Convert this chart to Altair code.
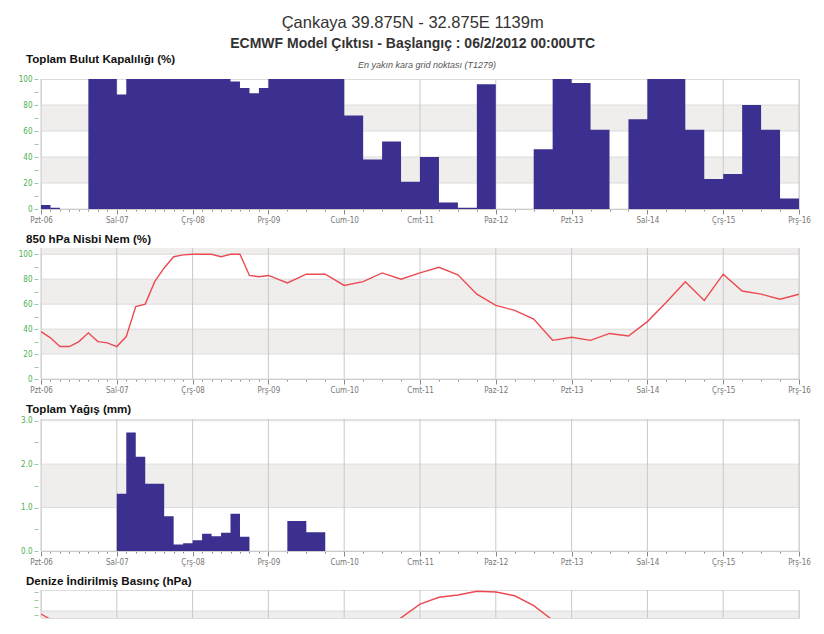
import json
import altair as alt
import pandas as pd

# ---------------- data ----------------
day_labels = ["Pzt-06", "Sal-07", "Çrş-08", "Prş-09", "Cum-10", "Cmt-11",
              "Paz-12", "Pzt-13", "Sal-14", "Çrş-15", "Prş-16"]
day_hours = [0, 24, 48, 72, 96, 120, 144, 168, 192, 216, 240]
x_ticks = [0, 3, 6, 9, 12, 15, 18, 21, 24, 27, 30, 33, 36, 39, 42, 45, 48, 51, 54,
           57, 60, 63, 66, 69, 72, 78, 84, 90, 96, 102, 108, 114, 120, 126, 132,
           138, 144, 150, 156, 162, 168, 174, 180, 186, 192, 198, 204, 210, 216,
           222, 228, 234, 240]

# Total cloud cover (%), bar start / end hour
cloud_start = [0, 3, 6, 9, 12, 15, 18, 21, 24, 27, 30, 33, 36, 39, 42, 45, 48, 51,
               54, 57, 60, 63, 66, 69, 72, 78, 84, 90, 96, 102, 108, 114, 120, 126,
               132, 138, 144, 150, 156, 162, 168, 174, 180, 186, 192, 198, 204, 210,
               216, 222, 228, 234]
cloud_end = [3, 6, 9, 12, 15, 18, 21, 24, 27, 30, 33, 36, 39, 42, 45, 48, 51, 54,
             57, 60, 63, 66, 69, 72, 78, 84, 90, 96, 102, 108, 114, 120, 126, 132,
             138, 144, 150, 156, 162, 168, 174, 180, 186, 192, 198, 204, 210, 216,
             222, 228, 234, 240]
cloud_val = [3, 1, 0, 0, 0, 100, 100, 100, 88, 100, 100, 100, 100, 100, 100, 100,
             100, 100, 100, 100, 98, 93, 89, 93, 100, 100, 100, 100, 72, 38, 52, 21,
             40, 5, 1, 96, 0, 0, 46, 100, 97, 61, 0, 69, 100, 100, 61, 23, 27, 80,
             61, 8]

# 850 hPa relative humidity (%)
rh_hours = [0, 3, 6, 9, 12, 15, 18, 21, 24, 27, 30, 33, 36, 39, 42, 45, 48, 51, 54,
            57, 60, 63, 66, 69, 72, 78, 84, 90, 96, 102, 108, 114, 120, 126, 132,
            138, 144, 150, 156, 162, 168, 174, 180, 186, 192, 198, 204, 210, 216,
            222, 228, 234, 240]
rh_val = [38, 33, 26, 26, 30, 37, 30, 29, 26, 34, 58, 60, 78, 89, 98, 99.5, 100,
          100, 100, 98, 100, 100, 83, 82, 83, 77, 84, 84, 75, 78, 85, 80, 85, 89.5,
          83.5, 68, 59, 55, 48, 31, 33.5, 31, 36.5, 34.5, 46, 61.5, 78, 63, 84,
          70.5, 68, 64, 68]

# Total precipitation (mm)
pr_start = [24, 27, 30, 33, 36, 39, 42, 45, 48, 51, 54, 57, 60, 63, 78, 84]
pr_end = [27, 30, 33, 36, 39, 42, 45, 48, 51, 54, 57, 60, 63, 66, 84, 90]
pr_val = [1.32, 2.73, 2.17, 1.55, 1.55, 0.80, 0.15, 0.18, 0.25, 0.40, 0.34, 0.42,
          0.86, 0.33, 0.69, 0.43]

# Mean sea level pressure (hPa)
p_hours = [0, 3, 6, 9, 12, 24, 48, 72, 96, 102, 108, 114, 120, 126, 132, 138, 144,
           150, 156, 162, 168, 174, 180, 192, 204, 210, 216, 222, 228, 234, 240]
p_val = [1027.6, 1026.9, 1025.8, 1025.0, 1024.3, 1022.5, 1021.0, 1020.5, 1022.0,
         1023.5, 1024.8, 1027.1, 1028.9, 1029.8, 1030.1, 1030.6, 1030.5, 1030.0,
         1028.7, 1026.8, 1025.2, 1024.0, 1023.0, 1022.5, 1023.5, 1024.5, 1025.2,
         1026.2, 1024.5, 1023.0, 1022.0]

cloud_ticks = [0, 10, 20, 30, 40, 50, 60, 70, 80, 90, 100]
cloud_bands = [(20, 40), (60, 80)]
rh_ticks = [0, 10, 20, 30, 40, 50, 60, 70, 80, 90, 100]
rh_bands = [(20, 40), (60, 80), (100, 105)]
pr_ticks = [0.0, 0.5, 1.0, 1.5, 2.0, 2.5, 3.0]
pr_bands = [(1.0, 2.0)]
p_ticks = [1027.5, 1028, 1028.5, 1029, 1029.5, 1030, 1030.5]
p_bands = [(1024, 1028)]

# ---------------- style ----------------
W = 758
BAR = "#3b2f8f"
LINE = "#ec4a50"
BAND = "#efeeec"
HGRID = "#dcdcdc"
VGRID = "#c9c9c9"
FONT = "Liberation Sans Narrow, DejaVu Sans Condensed, Liberation Sans, Arial, sans-serif"
TFONT = "Liberation Sans, Arial, sans-serif"
PT_SIZE = 11.6

xscale = alt.Scale(domain=[0, 240], nice=False, zero=False)
label_arr = json.dumps(day_labels, ensure_ascii=False)


def step_frame(starts, ends, vals):
    """Turn bar (start, end, value) triples into step-after points."""
    hs, vs = [], []
    for i, (s, e, v) in enumerate(zip(starts, ends, vals)):
        hs.append(s)
        vs.append(v)
        nxt = starts[i + 1] if i + 1 < len(starts) else None
        if nxt is None or nxt != e:
            hs.append(e)
            vs.append(0)
    return pd.DataFrame({"h": hs, "v": vs})


def x_axis(show=True):
    if not show:
        return None
    return alt.Axis(
        values=x_ticks,
        labelExpr=f"datum.value % 24 === 0 ? {label_arr}[datum.value / 24] : ''",
        tickSize={"condition": {"test": "datum.value % 24 === 0", "value": 5}, "value": 2},
        tickColor="#888", domainColor="#cccccc", labelColor="#777",
        labelFont=FONT, labelFontSize=8, labelPadding=2, labelOverlap=False,
        labelFlush=False, grid=False, title=None,
    )


def y_axis(values, test, fmt):
    return alt.Axis(
        values=values, format=fmt,
        labelExpr=f"({test}) ? datum.label : ''",
        tickSize=4, tickColor="#9c9", labelColor="#4caf50", labelFont=FONT,
        labelFontSize=8, labelPadding=2, labelOverlap=False, domain=False,
        offset=3, grid=False, title=None, minExtent=27, maxExtent=27,
    )


def title_mark(text, dy):
    return alt.Chart(pd.DataFrame({"t": [text]})).mark_text(
        font=TFONT, fontSize=PT_SIZE, fontWeight="bold", color="#111", align="left",
        baseline="middle").encode(text="t:N", x=alt.value(-15), y=alt.value(dy))


def panel(title, ydomain, yticks, ytest, bands, H, series, kind, fmt,
          offset=None, show_x=True, extra=()):
    yscale = alt.Scale(domain=ydomain, nice=False, zero=False)
    yax = y_axis(yticks, ytest, fmt)
    xax = x_axis(show_x)
    bdf = pd.DataFrame({"lo": [b[0] for b in bands], "hi": [b[1] for b in bands]})
    ddf = pd.DataFrame({"h": day_hours})

    band_l = alt.Chart(bdf).mark_rect(color=BAND, clip=True).encode(
        x=alt.value(0), x2=alt.value(W),
        y=alt.Y("lo:Q", scale=yscale, axis=yax), y2="hi:Q")
    hg = alt.Chart(pd.DataFrame({"v": yticks})).transform_filter(
        ytest.replace("datum.value", "datum.v")).mark_rule(
        color=HGRID, strokeWidth=1, clip=True).encode(
        y=alt.Y("v:Q", scale=yscale, axis=yax), x=alt.value(0), x2=alt.value(W))
    vg = alt.Chart(ddf).mark_rule(color=VGRID, strokeWidth=1).encode(
        x=alt.X("h:Q", scale=xscale, axis=xax), y=alt.value(0), y2=alt.value(H))
    layers = [band_l, hg, vg]
    if kind == "bar":
        layers.append(alt.Chart(series).mark_area(
            color=BAR, interpolate="step-after", opacity=1).encode(
            x=alt.X("h:Q", scale=xscale, axis=xax),
            y=alt.Y("v:Q", scale=yscale, axis=yax), y2=alt.datum(0)))
    else:
        layers.append(alt.Chart(series).mark_line(color=LINE, strokeWidth=1.4,
                                                  clip=True).encode(
            x=alt.X("h:Q", scale=xscale, axis=xax),
            y=alt.Y("v:Q", scale=yscale, axis=yax)))
    layers.extend(extra)
    props = dict(width=W, height=H)
    if offset is not None:
        props["title"] = alt.TitleParams(
            title, anchor="start", frame="group", dx=-15, fontSize=PT_SIZE,
            font=TFONT, fontWeight="bold", color="#111", offset=offset)
    return alt.layer(*layers).properties(**props)


# cloud: contiguous bars -> step points, closing point at the last bar end
cloud_df = pd.DataFrame({"h": cloud_start + [cloud_end[-1]],
                         "v": cloud_val + [cloud_val[-1]]})
rh_df = pd.DataFrame({"h": rh_hours, "v": rh_val})
pr_df = step_frame(pr_start, pr_end, pr_val)
p_df = pd.DataFrame({"h": p_hours, "v": p_val})

subnote = alt.Chart(pd.DataFrame({"t": ["En yakın kara grid noktası (T1279)"]})).mark_text(
    font=TFONT, fontSize=9, fontStyle="italic", color="#555", align="center",
    baseline="middle").encode(text="t:N", x=alt.value(386), y=alt.value(-14))

p1 = panel("Toplam Bulut Kapalılığı (%)", [0, 100], cloud_ticks,
           "datum.value % 20 === 0", cloud_bands, 130, cloud_df, "bar", "d",
           extra=(subnote, title_mark("Toplam Bulut Kapalılığı (%)", -19)))
p2 = panel("850 hPa Nisbi Nem (%)", [0, 105], rh_ticks, "datum.value % 20 === 0",
           rh_bands, 131, rh_df, "line", "d", offset=2)
p3 = panel("Toplam Yağış (mm)", [0, 3.04], pr_ticks, "datum.value % 1 === 0",
           pr_bands, 132, pr_df, "bar", ".1f", offset=1)
p4 = panel("Denize İndirilmiş Basınç (hPa)", [1027.08, 1030.76], p_ticks,
           "datum.value % 4 === 0", p_bands, 28, p_df, "line", "d", offset=0,
           show_x=False)

chart = alt.vconcat(p1, p2, p3, p4, spacing=8).properties(
    title=alt.TitleParams(
        "Çankaya 39.875N - 32.875E 1139m",
        subtitle="ECMWF Model Çıktısı  -  Başlangıç : 06/2/2012 00:00UTC",
        anchor="middle", fontSize=16.5, fontWeight="normal", font=TFONT,
        color="#333", subtitleFont=TFONT, subtitleFontSize=14,
        subtitleFontWeight="bold", subtitleColor="#333", subtitlePadding=5,
        offset=3, dx=2),
    padding={"left": 2, "right": 5, "top": 7, "bottom": 0},
).configure_view(stroke="#d8d8d8", strokeWidth=1).configure(background="white")

chart.save("out.html", embed_options={"renderer": "svg", "actions": False})
